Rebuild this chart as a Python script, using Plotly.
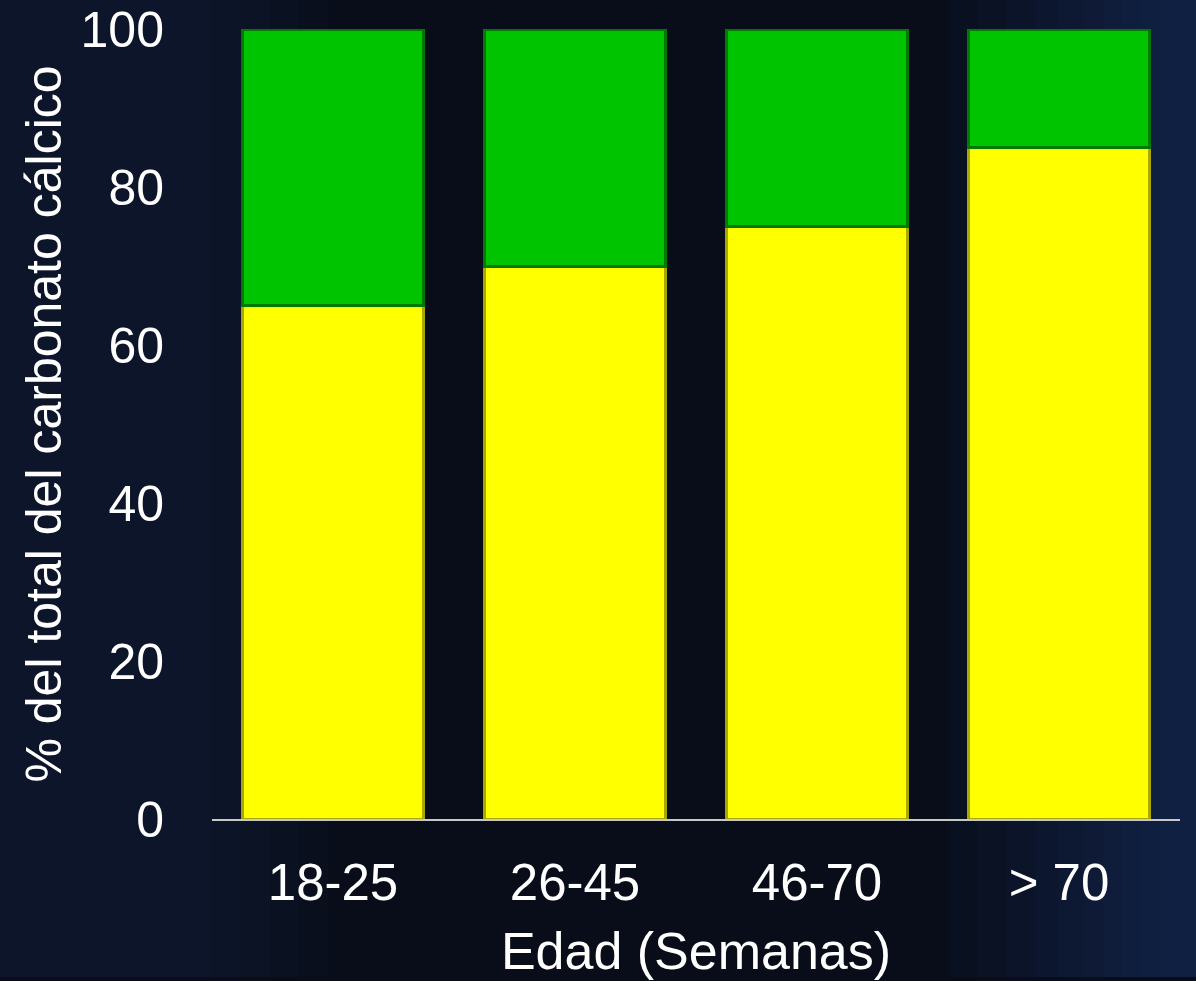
import plotly.graph_objects as go

# data
edades = ['18-25', '26-45', '46-70', '> 70']
amarillo = [65, 70, 75, 85]
verde = [35, 30, 25, 15]

font = 'Liberation Sans, Arial, sans-serif'

fig = go.Figure()
fig.add_trace(go.Bar(x=edades, y=amarillo, name='amarillo',
                     marker=dict(color='#ffff00', line=dict(color='#a8a800', width=3))))
fig.add_trace(go.Bar(x=edades, y=verde, name='verde',
                     marker=dict(color='#00c400', line=dict(color='#007a00', width=3))))

# backdrop: dark navy, getting bluer toward the right edge (soft stacked strips)
shapes = []
for x0 in [0.76, 0.79, 0.82, 0.85, 0.875, 0.90, 0.92, 0.94, 0.96, 0.98]:
    shapes.append(dict(type='rect', xref='paper', yref='paper', layer='below',
                       x0=x0, x1=1.05, y0=-0.2, y1=1.05,
                       fillcolor='#1c3f78', opacity=0.07, line=dict(width=0)))
for x1 in [0.0, 0.03, 0.06, 0.09, 0.12]:
    shapes.append(dict(type='rect', xref='paper', yref='paper', layer='below',
                       x0=-0.3, x1=x1, y0=-0.2, y1=1.05,
                       fillcolor='#1a3560', opacity=0.06, line=dict(width=0)))

fig.update_layout(
    barmode='stack',
    bargap=0.25,
    showlegend=False,
    width=1196, height=981,
    margin=dict(l=212, r=16, t=29, b=162),
    paper_bgcolor='#080d19',
    plot_bgcolor='rgba(0,0,0,0)',
    font=dict(family=font, color='white', size=51),
    shapes=shapes,
)
fig.update_xaxes(showline=True, linecolor='#c8c8c8', linewidth=2, showgrid=False,
                 ticks='', tickfont=dict(size=51), ticklabelstandoff=18, automargin=False,
                 title=dict(text='Edad (Semanas)', font=dict(size=52), standoff=22))
fig.update_yaxes(range=[0, 100], tickvals=[0, 20, 40, 60, 80, 100], showgrid=False,
                 zeroline=False, showline=False, ticks='', tickfont=dict(size=50),
                 ticklabelstandoff=47, automargin=False,
                 title=dict(text='% del total del carbonato cálcico', font=dict(size=50), standoff=3))

fig.write_html('out.html', config={'displayModeBar': False},
               post_script="document.body.style.margin='0';")
